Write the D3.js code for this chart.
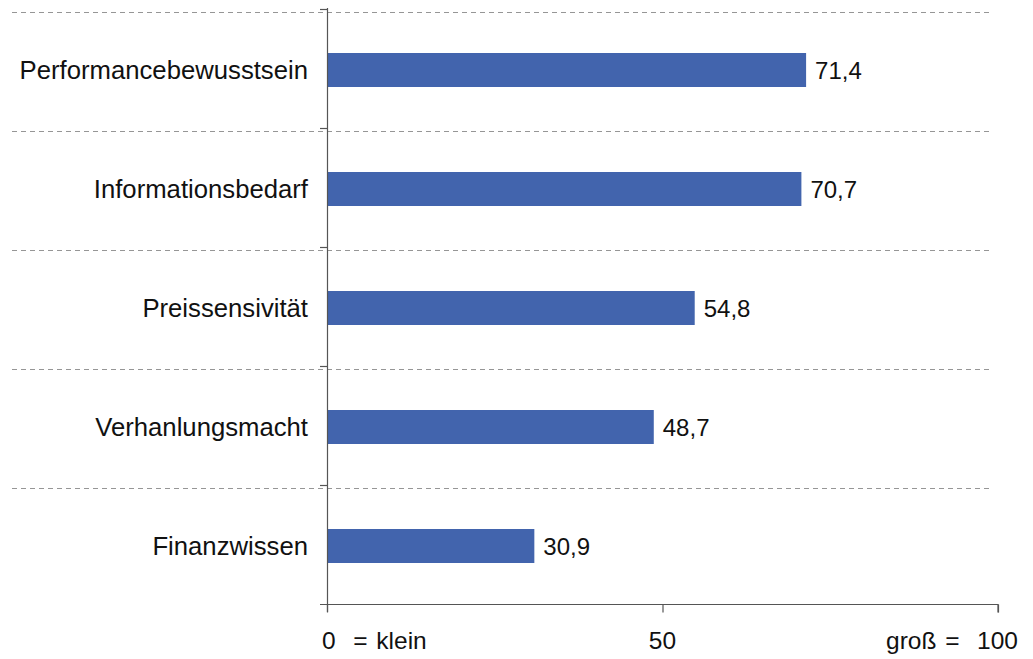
<!DOCTYPE html>
<html>
<head>
<meta charset="utf-8">
<script src="https://cdn.jsdelivr.net/npm/d3@7"></script>
<style>
  html, body { margin: 0; padding: 0; background: #fff; }
  svg { display: block; font-family: "Liberation Sans", Arial, sans-serif; }
</style>
</head>
<body>
<svg id="chart" width="1033" height="659"></svg>
<script>
// Index values (0 = klein, 100 = groß)
const categories = ["Performancebewusstsein", "Informationsbedarf", "Preissensivität", "Verhanlungsmacht", "Finanzwissen"];
const values = [71.4, 70.7, 54.8, 48.7, 30.9];
const valueLabels = ["71,4", "70,7", "54,8", "48,7", "30,9"];
const xTicks = [0, 50, 100];
const xTickLabels = ["0  = klein", "50", "groß =  100"];

const svg = d3.select("#chart");
const barColor = "#4264ad";

const x = d3.scaleLinear().domain([0, 100]).range([327, 998]);
const y = d3.scaleBand().domain(categories).range([10.5, 605.5]);
const barH = 34;

// dashed separators between categories
const bounds = categories.map(c => y(c));
svg.append("g").selectAll("line").data(bounds).join("line")
  .attr("x1", 12).attr("x2", 989)
  .attr("y1", d => Math.round(d + 1.5) + 0.5).attr("y2", d => Math.round(d + 1.5) + 0.5)
  .attr("stroke", "#969696").attr("stroke-width", 1).attr("stroke-dasharray", "5,4");

// bars
svg.append("g").selectAll("rect").data(values).join("rect")
  .attr("x", x(0))
  .attr("y", (d, i) => y(categories[i]) + y.bandwidth() / 2 - barH / 2)
  .attr("width", d => x(d) - x(0))
  .attr("height", barH)
  .attr("fill", barColor);

// value labels
svg.append("g").selectAll("text").data(values).join("text")
  .attr("x", d => x(d) + 9)
  .attr("y", (d, i) => y(categories[i]) + y.bandwidth() / 2)
  .attr("dy", "0.36em")
  .attr("font-size", 24)
  .attr("fill", "#111")
  .text((d, i) => valueLabels[i]);

// category axis
const yAxisG = svg.append("g");
yAxisG.append("line")
  .attr("x1", x(0) + 0.5).attr("x2", x(0) + 0.5)
  .attr("y1", 8).attr("y2", 612)
  .attr("stroke", "#555").attr("stroke-width", 1.2);
yAxisG.selectAll("line.tick").data(bounds).join("line").attr("class", "tick")
  .attr("x1", 320).attr("x2", x(0))
  .attr("y1", d => Math.round(d - 1.5) + 0.5).attr("y2", d => Math.round(d - 1.5) + 0.5)
  .attr("stroke", "#555").attr("stroke-width", 1.2);
yAxisG.selectAll("text").data(categories).join("text")
  .attr("x", 308)
  .attr("y", d => y(d) + y.bandwidth() / 2)
  .attr("dy", "0.36em")
  .attr("text-anchor", "end")
  .attr("font-size", 25.7)
  .attr("fill", "#111")
  .text(d => d);

// value axis
const xAxis = d3.axisBottom(x).tickValues(xTicks).tickSize(8).tickFormat("");
const xAxisG = svg.append("g").attr("transform", "translate(0,604.5)").call(xAxis);
xAxisG.select(".domain").attr("d", `M320,0H${x(100)}V8`).attr("stroke", "#555").attr("stroke-width", 1.2);
xAxisG.selectAll(".tick line").attr("stroke", "#555").attr("stroke-width", 1.2);

svg.append("g").selectAll("text").data(xTicks).join("text")
  .attr("x", (d, i) => i === 0 ? x(d) - 5 : i === xTicks.length - 1 ? 1018 : x(d))
  .attr("y", 640)
  .attr("dy", "0.36em")
  .attr("text-anchor", (d, i) => i === 0 ? "start" : i === xTicks.length - 1 ? "end" : "middle")
  .attr("font-size", 24.5)
  .attr("word-spacing", 2)
  .attr("fill", "#111")
  .style("white-space", "pre")
  .text((d, i) => xTickLabels[i]);
</script>
</body>
</html>
